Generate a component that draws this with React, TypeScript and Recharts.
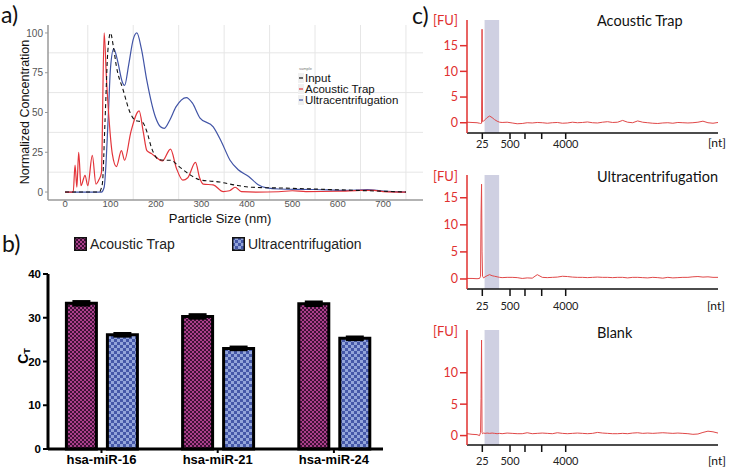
import React from 'react';
import {
  LineChart,
  Line,
  BarChart,
  Bar,
  XAxis,
  YAxis,
  ReferenceLine,
  ReferenceArea,
  ErrorBar,
  Legend,
} from 'recharts';

// a) particle size distributions (NTA)
const inputSize = [0, 75, 82, 88, 94, 100, 106, 113, 128, 143, 155, 170, 180, 190, 206, 220, 232, 251, 274, 296, 340, 378, 412, 480, 591, 700, 750];
const inputConc = [0, 0, 5, 45, 88, 100, 92, 79, 64, 50, 45, 44, 38, 28, 20.5, 20, 20, 16, 11, 7.7, 6.3, 4.2, 3, 2.5, 1.5, 0.5, 0];
const acousticSize = [0, 18, 22, 26, 30, 35, 44, 50, 60, 68, 75, 80, 86, 91, 97, 104, 113, 124, 131, 145, 163, 172, 180, 191, 200, 214, 232, 245, 259, 270, 287, 296, 304, 326, 348, 362, 374, 388, 420, 470, 500, 530, 600, 650, 680, 700, 750];
const acousticConc = [0, 0, 17, 3, 25, 4, 10.5, 4, 23, 5, 8, 12, 100, 72, 45, 24, 16, 26, 20, 38, 51, 38, 26, 24, 22, 19.5, 27, 15, 7.5, 9, 18.6, 9, 5, 4.5, 0.3, 0.8, 3, 0.3, 0, 0.2, 0.8, 0.3, 0.5, 1, 1.1, 0.3, 0];
const ultraSize = [0, 80, 86, 95, 100, 107, 116, 125, 131, 140, 150, 158, 168, 180, 199, 210, 218, 230, 244, 267, 280, 297, 326, 345, 363, 381, 404, 425, 444, 470, 550, 620, 665, 700, 750];
const ultraConc = [0, 0, 3, 47, 78, 90, 82, 70, 67, 80, 96, 100, 90, 70, 47, 41, 40, 45, 53.5, 59.4, 56, 46.5, 41, 31, 20, 14, 9.8, 4.6, 2.6, 1.9, 1.6, 1, 1.6, 0.6, 0];
const sizeTicks = [0, 100, 200, 300, 400, 500, 600, 700];
const concTicks = [0, 25, 50, 75, 100];
const sizeGrid = [50, 150, 250, 350, 450, 550, 650, 750];
const concGrid = [12.5, 37.5, 62.5, 87.5];

// b) qPCR threshold cycles
const mirnas = ['hsa-miR-16', 'hsa-miR-21', 'hsa-miR-24'];
const acousticCt = [33.3, 30.3, 33.2];
const acousticCtErr = [0.4, 0.4, 0.4];
const ultraCt = [26.1, 23.0, 25.3];
const ultraCtErr = [0.3, 0.3, 0.3];
const ctTicks = [0, 10, 20, 30, 40];

// c) Bioanalyzer small RNA traces
const fuTime = [19, 20, 21, 21.5, 21.7, 21.8, 21.9, 22, 22.1, 22.3, 22.6, 23, 23.5, 24, 24.5, 25, 25.5, 26, 27, 28, 29, 30, 31, 32, 33, 34, 35, 36, 37, 38, 39, 40, 41, 42, 43, 44, 45, 46, 47, 48, 49, 50, 51, 52, 53, 54, 55, 56, 57, 58, 59, 60, 61, 62, 63, 64, 65, 66, 67, 68, 69];
const fuAcoustic = [0.1, 0.05, 0, -0.1, -0.15, -0.1, -0.1, 18.2, 0.2, 0.3, 0.6, 1, 1.3, 1, 0.6, 0.3, 0.1, 0.05, 0.1, -0.05, -0.2, -0.15, 0, -0.05, 0.05, 0, -0.1, 0, 0.05, -0.1, -0.05, 0.1, 0, 0.05, 0.15, 0, -0.05, 0.1, 0.2, 0.05, 0.1, 0.45, 0.1, 0, 0.35, 0.1, 0, -0.1, -0.15, -0.05, 0, -0.1, 0.05, 0, -0.05, 0, 0.1, 0.3, 0, -0.1, 0.05];
const fuUltra = [0.1, 0.1, 0.05, 0.1, 0.5, 12, 17.5, 5, 0.5, 0.2, 0.4, 0.6, 0.8, 0.6, 0.5, 0.4, 0.3, 0.25, 0.3, 0.3, 0.25, 0.1, 0.2, 0.15, 0.8, 0.3, 0.25, 0.3, 0.35, 0.5, 0.45, 0.35, 0.3, 0.3, 0.25, 0.3, 0.35, 0.3, 0.3, 0.25, 0.3, 0.3, 0.2, 0.3, 0.3, 0.25, 0.2, 0.3, 0.25, 0.15, 0.3, 0.2, 0.25, 0.3, 0.3, 0.4, 0.45, 0.35, 0.4, 0.3, 0.3];
const fuBlank = [0.3, 0.2, 0.15, 0, 0.5, 5.9, 15.2, 0.5, 0.3, 0.4, 0.35, 0.4, 0.35, 0.4, 0.35, 0.3, 0.35, 0.3, 0.4, 0.35, 0.3, 0.3, 0.45, 0.3, 0.35, 0.4, 0.35, 0.3, 0.45, 0.35, 0.3, 0.35, 0.4, 0.35, 0.3, 0.35, 0.5, 0.4, 0.35, 0.3, 0.3, 0.35, 0.3, 0.4, 0.45, 0.35, 0.4, 0.35, 0.4, 0.45, 0.4, 0.35, 0.4, 0.35, 0.3, 0.2, 0.25, 0.5, 0.7, 0.6, 0.4];
const ladderTime = [22.05, 25.24, 27.57, 30.55, 33.88, 38.66];
const ladderLabels = ['25', '', '500', '', '', '4000'];

const SANS = '"Liberation Sans", Arial, sans-serif';
const MYRIAD = 'Lato, "Open Sans", sans-serif';
const FU_RED = '#e0302f';

const seriesA = [
  { name: 'Input', color: '#111111' },
  { name: 'Acoustic Trap', color: '#e3343a' },
  { name: 'Ultracentrifugation', color: '#4154a6' },
];

const toPoints = (xs: number[], ys: number[]) => xs.map((x, i) => ({ size: x, conc: ys[i] }));

type TextProps = {
  x: number;
  y: number;
  size: number;
  anchor?: 'start' | 'middle' | 'end';
  rotate?: number;
  color?: string;
  family?: string;
  weight?: number;
  children: React.ReactNode;
};

function Txt({ x, y, size, anchor = 'start', rotate, color = '#111', family = SANS, weight = 400, children }: TextProps) {
  const tx = anchor === 'middle' ? '-50%' : anchor === 'end' ? '-100%' : '0';
  return (
    <div
      style={{
        position: 'absolute',
        left: x,
        top: y,
        transform: `translate(${tx}, -50%)${rotate ? ` rotate(${rotate}deg)` : ''}`,
        fontSize: size,
        lineHeight: 1,
        whiteSpace: 'nowrap',
        color,
        fontFamily: family,
        fontWeight: weight,
      }}
    >
      {children}
    </div>
  );
}

function SampleLegend() {
  return (
    <div style={{ fontFamily: SANS }}>
      <div style={{ fontSize: 4, color: '#777', height: 6, lineHeight: '6px', marginLeft: 1 }}>sample</div>
      {seriesA.map((s) => (
        <div key={s.name} style={{ display: 'flex', alignItems: 'center', height: 11, fontSize: 11.5, color: '#111' }}>
          <svg width={6} height={10} style={{ display: 'block' }}>
            <rect width={6} height={10} fill="#f0f0f0" />
            <line x1={1} x2={5} y1={5} y2={5} stroke={s.color} strokeWidth={1.2} />
          </svg>
          <span style={{ marginLeft: 1 }}>{s.name}</span>
        </div>
      ))}
    </div>
  );
}

function SizeDistribution() {
  return (
    <div style={{ position: 'absolute', left: 0, top: 0, fontFamily: SANS }}>
      <LineChart width={425} height={225} margin={{ top: 25, right: 2, bottom: 0, left: 0 }}>
        {concGrid.map((v) => (
          <ReferenceLine key={'h' + v} y={v} stroke="#e6e6e6" strokeWidth={1} />
        ))}
        {sizeGrid.map((v) => (
          <ReferenceLine key={'v' + v} x={v} stroke="#e6e6e6" strokeWidth={1} />
        ))}
        <XAxis
          dataKey="size"
          type="number"
          domain={[-37.5, 787.5]}
          ticks={sizeTicks}
          allowDataOverflow
          height={25}
          axisLine={{ stroke: '#9a9a9a', strokeWidth: 1.5 }}
          tickLine={{ stroke: '#9a9a9a' }}
          tickSize={2}
          tickMargin={-2}
          tick={{ fontSize: 9.5, fill: '#555' }}
        />
        <YAxis
          type="number"
          domain={[-5, 105]}
          ticks={concTicks}
          allowDataOverflow
          width={48}
          axisLine={{ stroke: '#9a9a9a', strokeWidth: 1.5 }}
          tickLine={{ stroke: '#9a9a9a' }}
          tickSize={3}
          tickMargin={2}
          tick={{ fontSize: 10, fill: '#555' }}
        />
        <Line
          data={toPoints(ultraSize, ultraConc)}
          dataKey="conc"
          type="monotone"
          stroke={seriesA[2].color}
          strokeWidth={1.2}
          dot={false}
          isAnimationActive={false}
        />
        <Line
          data={toPoints(acousticSize, acousticConc)}
          dataKey="conc"
          type="monotone"
          stroke={seriesA[1].color}
          strokeWidth={1.2}
          dot={false}
          isAnimationActive={false}
        />
        <Line
          data={toPoints(inputSize, inputConc)}
          dataKey="conc"
          type="monotone"
          stroke={seriesA[0].color}
          strokeDasharray="4 3"
          strokeWidth={1.1}
          dot={false}
          isAnimationActive={false}
        />
        <Legend
          layout="vertical"
          align="center"
          verticalAlign="middle"
          content={() => <SampleLegend />}
          wrapperStyle={{ position: 'absolute', left: 298, top: 66, width: 'auto', height: 'auto' }}
        />
      </LineChart>
    </div>
  );
}

const ctData = mirnas.map((name, i) => ({
  name,
  acoustic: acousticCt[i],
  acousticErr: acousticCtErr[i],
  ultra: ultraCt[i],
  ultraErr: ultraCtErr[i],
}));

function PatternDefs() {
  return (
    <defs>
      <pattern id="patAcoustic" width={4} height={4} patternUnits="userSpaceOnUse">
        <rect width={4} height={4} fill="#ab3f8b" />
        <rect width={2} height={2} fill="#3e1136" />
        <rect x={2} y={2} width={2} height={2} fill="#3e1136" />
      </pattern>
      <pattern id="patUltra" width={6} height={6} patternUnits="userSpaceOnUse">
        <rect width={6} height={6} fill="#93a5da" />
        <rect width={3} height={3} fill="#4558a8" />
        <rect x={3} y={3} width={3} height={3} fill="#4558a8" />
      </pattern>
    </defs>
  );
}

function CtLegend() {
  const items = [
    { name: 'Acoustic Trap', fill: 'url(#patAcoustic)', left: 0 },
    { name: 'Ultracentrifugation', fill: 'url(#patUltra)', left: 158 },
  ];
  return (
    <div style={{ position: 'relative', width: 300, height: 16, fontFamily: SANS }}>
      {items.map((it) => (
        <div key={it.name} style={{ position: 'absolute', left: it.left, top: 0, display: 'flex', alignItems: 'center' }}>
          <svg width={13} height={14} style={{ display: 'block' }}>
            <rect x={0.75} y={0.75} width={11.5} height={12.5} fill={it.fill} stroke="#111" strokeWidth={1.5} />
          </svg>
          <span style={{ marginLeft: 3, fontSize: 14, color: '#222' }}>{it.name}</span>
        </div>
      ))}
    </div>
  );
}

function CtBars() {
  return (
    <div style={{ position: 'absolute', left: 0, top: 225, fontFamily: SANS }}>
      <BarChart
        width={400}
        height={246}
        data={ctData}
        margin={{ top: 49, right: 17, bottom: 0, left: 0 }}
        barSize={30}
        barGap={11}
      >
        <PatternDefs />
        <XAxis
          dataKey="name"
          height={22}
          padding={{ left: -4.6, right: -9 }}
          axisLine={{ stroke: '#000', strokeWidth: 3 }}
          tickLine={{ stroke: '#000', strokeWidth: 2 }}
          tickSize={4}
          tickMargin={2}
          tick={{ fontSize: 13, fontWeight: 700, fill: '#000' }}
        />
        <YAxis
          domain={[0, 40]}
          ticks={ctTicks}
          width={48}
          axisLine={{ stroke: '#000', strokeWidth: 3 }}
          tickLine={{ stroke: '#000', strokeWidth: 2 }}
          tickSize={5}
          tickMargin={2}
          tick={{ fontSize: 11.5, fontWeight: 700, fill: '#000' }}
        />
        <Bar dataKey="acoustic" fill="url(#patAcoustic)" stroke="#000" strokeWidth={3} isAnimationActive={false}>
          <ErrorBar dataKey="acousticErr" direction="y" width={9} stroke="#000" strokeWidth={3} />
        </Bar>
        <Bar dataKey="ultra" fill="url(#patUltra)" stroke="#000" strokeWidth={3} isAnimationActive={false}>
          <ErrorBar dataKey="ultraErr" direction="y" width={9} stroke="#000" strokeWidth={3} />
        </Bar>
        <Legend
          layout="vertical"
          align="center"
          verticalAlign="middle"
          content={() => <CtLegend />}
          wrapperStyle={{ position: 'absolute', left: 74, top: 11, width: 'auto', height: 'auto' }}
        />
      </BarChart>
    </div>
  );
}

type FuProps = {
  top: number;
  plotBottom: number;
  values: number[];
  yDomain: [number, number];
  yTicks: number[];
  tickSize: number;
  tickMargin: number;
};

function FuTrace({ top, plotBottom, values, yDomain, yTicks, tickSize, tickMargin }: FuProps) {
  const height = plotBottom - top + 30;
  const data = fuTime.map((t, i) => ({ t, fu: values[i] }));
  return (
    <div style={{ position: 'absolute', left: 400, top: top - 20, fontFamily: MYRIAD }}>
      <LineChart width={333} height={height + 20} data={data} margin={{ top: 20, right: 15, bottom: 0, left: 0 }}>
        <ReferenceArea x1={22.5} x2={25.4} fill="#cfd0e2" fillOpacity={1} stroke="none" />
        <XAxis
          dataKey="t"
          type="number"
          domain={[19, 69]}
          ticks={ladderTime}
          tickFormatter={(v: number) => ladderLabels[ladderTime.indexOf(v)] ?? ''}
          allowDataOverflow
          height={30}
          axisLine={{ stroke: '#111', strokeWidth: 1.5 }}
          tickLine={{ stroke: '#111', strokeWidth: 1.5 }}
          tickSize={tickSize}
          tickMargin={tickMargin}
          tick={{ fontSize: 11, fill: '#222' }}
        />
        <YAxis
          type="number"
          domain={yDomain}
          ticks={yTicks}
          allowDataOverflow
          width={67}
          axisLine={{ stroke: FU_RED, strokeWidth: 1.5 }}
          tickLine={{ stroke: FU_RED, strokeWidth: 1.5 }}
          tickSize={7}
          tickMargin={2}
          tick={{ fontSize: 12.5, fill: FU_RED }}
        />
        <Line dataKey="fu" type="linear" stroke="#e04848" strokeWidth={1} dot={false} isAnimationActive={false} />
      </LineChart>
    </div>
  );
}

export default function App() {
  return (
    <div style={{ position: 'absolute', left: 0, top: 0, width: 733, height: 471, background: '#fff', overflow: 'hidden' }}>
      <SizeDistribution />
      <Txt x={25} y={112} size={12.5} anchor="middle" rotate={-90}>Normalized Concentration</Txt>
      <Txt x={220} y={217.5} size={13} anchor="middle">Particle Size (nm)</Txt>

      <CtBars />
      <div
        style={{
          position: 'absolute',
          left: 24,
          top: 356,
          transform: 'translate(-50%, -50%) rotate(-90deg)',
          fontFamily: SANS,
          fontWeight: 700,
          fontSize: 14,
          lineHeight: 1,
          whiteSpace: 'nowrap',
        }}
      >
        C<sub style={{ fontSize: 9, verticalAlign: -2 }}>T</sub>
      </div>

      <FuTrace top={20} plotBottom={133} values={fuAcoustic} yDomain={[-2, 20]} yTicks={[0, 5, 10, 15]} tickSize={6} tickMargin={1} />
      <FuTrace top={175} plotBottom={289} values={fuUltra} yDomain={[-1.85, 19.2]} yTicks={[0, 5, 10, 15]} tickSize={7} tickMargin={6} />
      <FuTrace top={330} plotBottom={445} values={fuBlank} yDomain={[-1.5, 16.8]} yTicks={[0, 5, 10]} tickSize={7} tickMargin={5} />

      <Txt x={433} y={20} size={13} color={FU_RED} family={MYRIAD}>[FU]</Txt>
      <Txt x={433} y={176} size={13} color={FU_RED} family={MYRIAD}>[FU]</Txt>
      <Txt x={433} y={331} size={13} color={FU_RED} family={MYRIAD}>[FU]</Txt>
      <Txt x={708} y={143} size={12} family={MYRIAD}>[nt]</Txt>
      <Txt x={707} y={306} size={12} family={MYRIAD}>[nt]</Txt>
      <Txt x={708} y={461} size={12} family={MYRIAD}>[nt]</Txt>
      <Txt x={597} y={21} size={14.5} family={MYRIAD}>Acoustic Trap</Txt>
      <Txt x={597} y={177} size={14.5} family={MYRIAD}>Ultracentrifugation</Txt>
      <Txt x={597} y={333} size={14.5} family={MYRIAD}>Blank</Txt>

      <Txt x={1} y={14} size={23} family={MYRIAD}>a)</Txt>
      <Txt x={2} y={243} size={23} family={MYRIAD}>b)</Txt>
      <Txt x={412} y={15} size={23} family={MYRIAD}>c)</Txt>
    </div>
  );
}
